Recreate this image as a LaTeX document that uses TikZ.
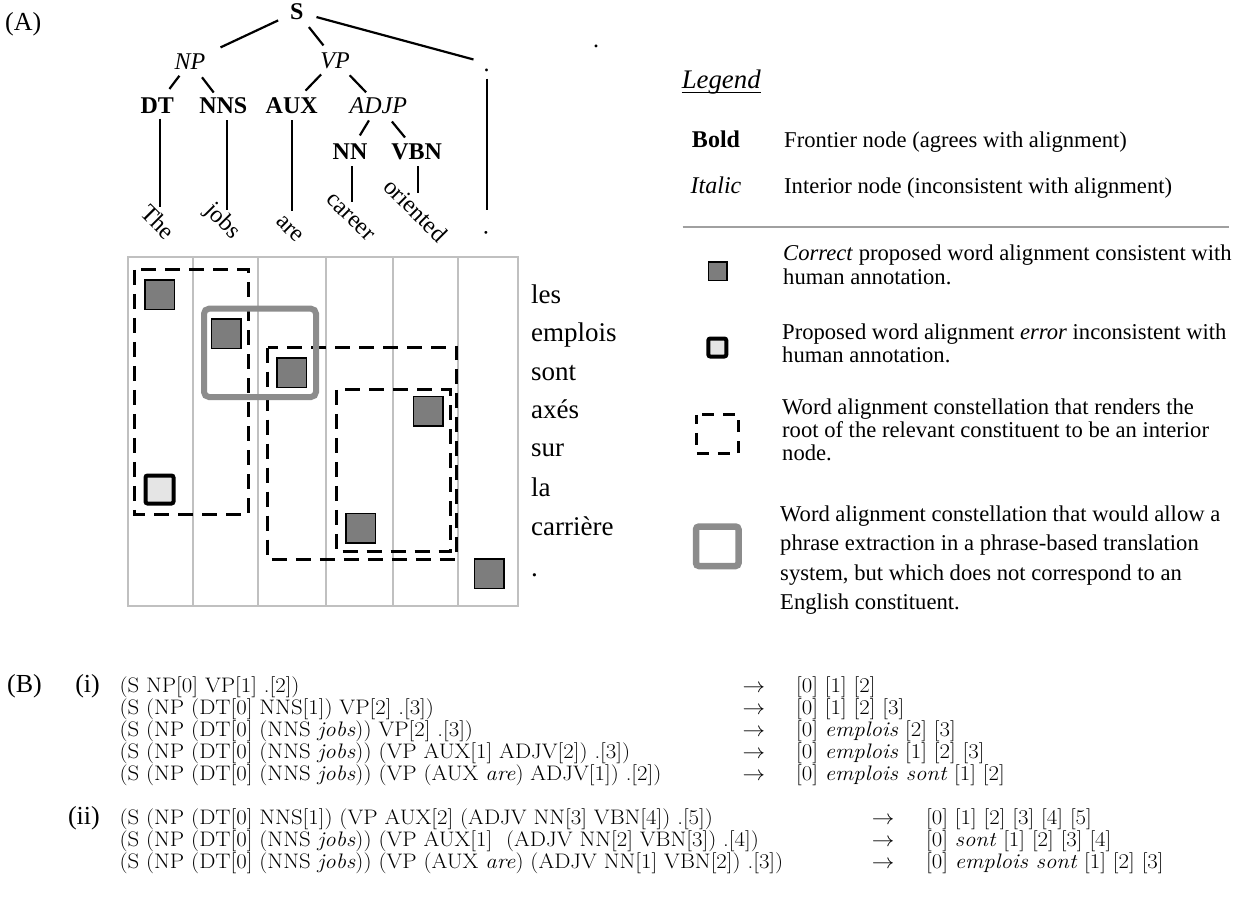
\documentclass[tikz,border=0pt]{standalone}
\usepackage{fontspec}
\usepackage{graphicx}
\newfontfamily\tms{Liberation Serif}
\newcommand\tfTree{\tms\fontsize{24}{28}\selectfont}
\newcommand\tfFr{\tms\fontsize{27}{30}\selectfont}
\newcommand\tfLeg{\tms\fontsize{22.6}{23.4}\selectfont}
\newcommand\tfB{\fontsize{21}{24}\selectfont}
\newcommand\bx[1]{\scalebox{1.086}[1]{#1}}
\definecolor{sqfill}{RGB}{125,125,125}
\definecolor{errfill}{RGB}{229,229,229}
\definecolor{boxgray}{RGB}{140,140,140}
\definecolor{gridgray}{RGB}{192,192,192}
\definecolor{sepgray}{RGB}{160,160,160}
\tikzset{
 lab/.style={inner sep=0pt, text height=16pt, text depth=0pt},
 bl/.style={lab, font=\tfTree\bfseries},
 il/.style={lab, font=\tfTree\itshape},
 pl/.style={lab, font=\tfTree},
 tedge/.style={line width=2.2pt},
 word/.style={inner sep=0pt, rotate=-45, font=\tfTree},
 fr/.style={inner sep=0pt, anchor=base west, font=\tfFr},
 gline/.style={draw=gridgray, line width=2pt},
 cell/.style={draw=black, fill=sqfill, line width=1.5pt, minimum size=29.5pt, inner sep=0pt},
 errcell/.style={draw=black, fill=errfill, line width=4pt, minimum size=28pt, inner sep=0pt, rounded corners=2pt},
 dashbox/.style={draw=black, line width=3pt, dash pattern=on 15pt off 9pt},
 graybox/.style={draw=boxgray, line width=6pt, rounded corners=5pt},
 legtext/.style={inner sep=0pt, anchor=base west, font=\tfLeg},
 btext/.style={inner sep=0pt, anchor=base west, font=\tfB},
 barrow/.style={inner sep=0pt, anchor=base, font=\tfB},
 blab/.style={inner sep=0pt, anchor=base east, font=\tms\fontsize{26}{30}\selectfont},
}
\begin{document}
\begin{tikzpicture}[x=1pt,y=-1pt]
\useasboundingbox (0,0) rectangle (1244,905);
\fill[white] (0,0) rectangle (1244,905);

% ---------- (A) tree ----------
\node[anchor=base west, inner sep=0pt, font=\tms\fontsize{26}{30}\selectfont] (labA) at (5,30.4) {(A)};
\node[anchor=base, inner sep=0pt, font=\tfTree] (stray) at (596,47) {.};

\node[bl] (S) at (296.7,11.7) {S};
\node[il] (NP) at (190,61.7) {NP};
\node[il] (VP) at (335,60) {VP};
\node[pl] (PD) at (486.5,63) {.};
\node[bl] (DT) at (157.3,105) {DT};
\node[bl] (NNS) at (223.3,105) {NNS};
\node[bl] (AUX) at (291.7,105) {AUX};
\node[il] (ADJP) at (378.3,105) {ADJP};
\node[bl] (NN) at (350,151.7) {NN};
\node[bl] (VBN) at (416.7,151.7) {VBN};

\draw[tedge, shorten <=20.5pt, shorten >=33.7pt] (S.center) -- (NP.center);
\draw[tedge, shorten <=19.6pt, shorten >=18.6pt] (S.center) -- (VP.center);
\draw[tedge, shorten <=20.5pt, shorten >=13.5pt] (S.center) -- (PD.center);
\draw[tedge, shorten <=17.6pt, shorten >=20.1pt] (NP.center) -- (DT.center);
\draw[tedge, shorten <=19.7pt, shorten >=15.7pt] (NP.center) -- (NNS.center);
\draw[tedge, shorten <=20pt, shorten >=20pt] (VP.center) -- (AUX.center);
\draw[tedge, shorten <=21.2pt, shorten >=17.6pt] (VP.center) -- (ADJP.center);
\draw[tedge, shorten <=18pt, shorten >=19pt] (ADJP.center) -- (NN.center);
\draw[tedge, shorten <=21.4pt, shorten >=18.4pt] (ADJP.center) -- (VBN.center);

\node[word] (wThe) at (158,222) {The};
\node[word] (wJobs) at (222.5,221.5) {jobs};
\node[word] (wAre) at (289.5,229) {are};
\node[word] (wCareer) at (350,217.5) {career};
\node[word] (wOriented) at (416,210) {oriented};
\node[word] (wDot) at (486.7,233.3) {.};

\coordinate (eThe) at (160,206.7);
\coordinate (eJobs) at (227,210);
\coordinate (eAre) at (292.3,211);
\coordinate (eCareer) at (352.3,201.7);
\coordinate (eOriented) at (418.3,192.7);
\coordinate (eDot) at (486.7,210);
\draw[tedge, shorten <=5.3pt] (DT.south -| eThe) -- (eThe);
\draw[tedge, shorten <=7pt] (NNS.south -| eJobs) -- (eJobs);
\draw[tedge, shorten <=7pt] (AUX.south -| eAre) -- (eAre);
\draw[tedge, shorten <=6.3pt] (NN.south -| eCareer) -- (eCareer);
\draw[tedge, shorten <=6.3pt] (VBN.south -| eOriented) -- (eOriented);
\draw[tedge, shorten <=7.3pt] (PD.south -| eDot) -- (eDot);

% ---------- alignment grid ----------
\draw[gline] (128.3,256.7) rectangle (518.3,606);
\foreach \gx in {193.3,257.7,325.7,392.7,458.3}
  \draw[gline] (\gx,256.7) -- (\gx,606);

\node[cell] (c1) at (159.5,294.7) {};
\node[cell] (c2) at (226,333.5) {};
\node[cell] (c3) at (291.5,372.5) {};
\node[cell] (c4) at (428,411) {};
\node[cell] (c5) at (360.7,528) {};
\node[cell] (c6) at (489,573.7) {};
\node[errcell] (e1) at (159.5,489.5) {};

\draw[dashbox] (134.8,269.8) rectangle (248.5,514.5);
\draw[dashbox] (267.5,347.5) rectangle (456.8,559.2);
\draw[dashbox] (336.5,389.8) rectangle (450.2,551.8);
\draw[graybox] (204,308.7) rectangle (316,397);

\node[fr] (fLes) at (531,303.3) {les};
\node[fr] (fEmplois) at (531,341) {emplois};
\node[fr] (fSont) at (531,380) {sont};
\node[fr] (fAxes) at (531,418.3) {axés};
\node[fr] (fSur) at (531,456.7) {sur};
\node[fr] (fLa) at (531,496.7) {la};
\node[fr] (fCarriere) at (531,535) {carrière};
\node[fr] (fDot) at (531,576.7) {.};

% ---------- legend ----------
\node[anchor=base, inner sep=0pt, font=\tms\fontsize{26.8}{30}\selectfont\itshape] (legend) at (721.2,88) {Legend};
\draw[line width=1.2pt] ([yshift=-4.5pt]legend.base west) -- ([yshift=-4.5pt]legend.base east);

\node[anchor=base, inner sep=0pt, font=\tms\fontsize{24}{28}\selectfont\bfseries] (kBold) at (716,147.3) {Bold};
\node[legtext] (tBold) at (784,147.3) {Frontier node (agrees with alignment)};
\node[anchor=base, inner sep=0pt, font=\tms\fontsize{24}{28}\selectfont\itshape] (kItalic) at (716,193.3) {Italic};
\node[legtext] (tItalic) at (784,193.3) {Interior node (inconsistent with alignment)};

\draw[draw=sepgray, line width=2pt] (682.7,226.7) -- (1229.3,226.7);

\node[cell, minimum size=18.5pt] (kCorrect) at (717.5,271) {};
\node[legtext] (tCorrect) at (783,260.8) {\parbox[t]{470pt}{\tfLeg\textit{Correct} proposed word alignment consistent with\\human annotation.}};

\node[errcell, minimum size=18pt, line width=4pt] (kError) at (717.3,347.5) {};
\node[legtext] (tError) at (782,339) {\parbox[t]{470pt}{\tfLeg Proposed word alignment \textit{error} inconsistent with\\human annotation.}};

\draw[dashbox, dash pattern=on 12pt off 9pt, dash phase=3pt] (696.5,414.8) rectangle (738.5,453.5);
\node[legtext] (tDash) at (782,414) {\parbox[t]{470pt}{\tfLeg Word alignment constellation that renders the\\root of the relevant constituent to be an interior\\node.}};

\draw[graybox, line width=6.5pt, rounded corners=3pt] (696,526.5) rectangle (738.5,566);
\node[legtext] (tGray) at (780,521) {\parbox[t]{470pt}{\tms\fontsize{22.6}{29.5}\selectfont Word alignment constellation that would allow a\\phrase extraction in a phrase-based translation\\system, but which does not correspond to an\\English constituent.}};

% ---------- (B) rules ----------
\node[blab, anchor=base west] (labB) at (7,692) {(B)};
\node[blab] (labI) at (100,692) {(i)};
\node[blab] (labII) at (100,824.5) {(ii)};

\node[btext] (l1) at (119.3,692) {\bx{(S NP[0] VP[1] .[2])}};
\node[btext] (l2) at (119.3,714) {\bx{(S (NP (DT[0] NNS[1]) VP[2] .[3])}};
\node[btext] (l3) at (119.3,736) {\bx{(S (NP (DT[0] (NNS \textit{jobs})) VP[2] .[3])}};
\node[btext] (l4) at (119.3,758) {\bx{(S (NP (DT[0] (NNS \textit{jobs})) (VP AUX[1] ADJV[2]) .[3])}};
\node[btext] (l5) at (119.3,780) {\bx{(S (NP (DT[0] (NNS \textit{jobs})) (VP (AUX \textit{are}) ADJV[1]) .[2])}};
\node[btext] (l6) at (119.3,824.5) {\bx{(S (NP (DT[0] NNS[1]) (VP AUX[2] (ADJV NN[3] VBN[4]) .[5])}};
\node[btext] (l7) at (119.3,846.5) {\bx{(S (NP (DT[0] (NNS \textit{jobs})) (VP AUX[1]\ \ (ADJV NN[2] VBN[3]) .[4])}};
\node[btext] (l8) at (119.3,868.5) {\bx{(S (NP (DT[0] (NNS \textit{jobs})) (VP (AUX \textit{are}) (ADJV NN[1] VBN[2]) .[3])}};

\foreach \ry/\nm in {692/a1,714/a2,736/a3,758/a4,780/a5}
  \node[barrow] (\nm) at (754,\ry) {\bx{$\rightarrow$}};
\foreach \ry/\nm in {824.5/a6,846.5/a7,868.5/a8}
  \node[barrow] (\nm) at (883,\ry) {\bx{$\rightarrow$}};

\node[btext] (r1) at (796,692) {\bx{[0] [1] [2]}};
\node[btext] (r2) at (796,714) {\bx{[0] [1] [2] [3]}};
\node[btext] (r3) at (796,736) {\bx{[0] \textit{emplois} [2] [3]}};
\node[btext] (r4) at (796,758) {\bx{[0] \textit{emplois} [1] [2] [3]}};
\node[btext] (r5) at (796,780) {\bx{[0] \textit{emplois sont} [1] [2]}};
\node[btext] (r6) at (926,824.5) {\bx{[0] [1] [2] [3] [4] [5]}};
\node[btext] (r7) at (926,846.5) {\bx{[0] \textit{sont} [1] [2] [3] [4]}};
\node[btext] (r8) at (926,868.5) {\bx{[0] \textit{emplois sont} [1] [2] [3]}};
\end{tikzpicture}
\end{document}
